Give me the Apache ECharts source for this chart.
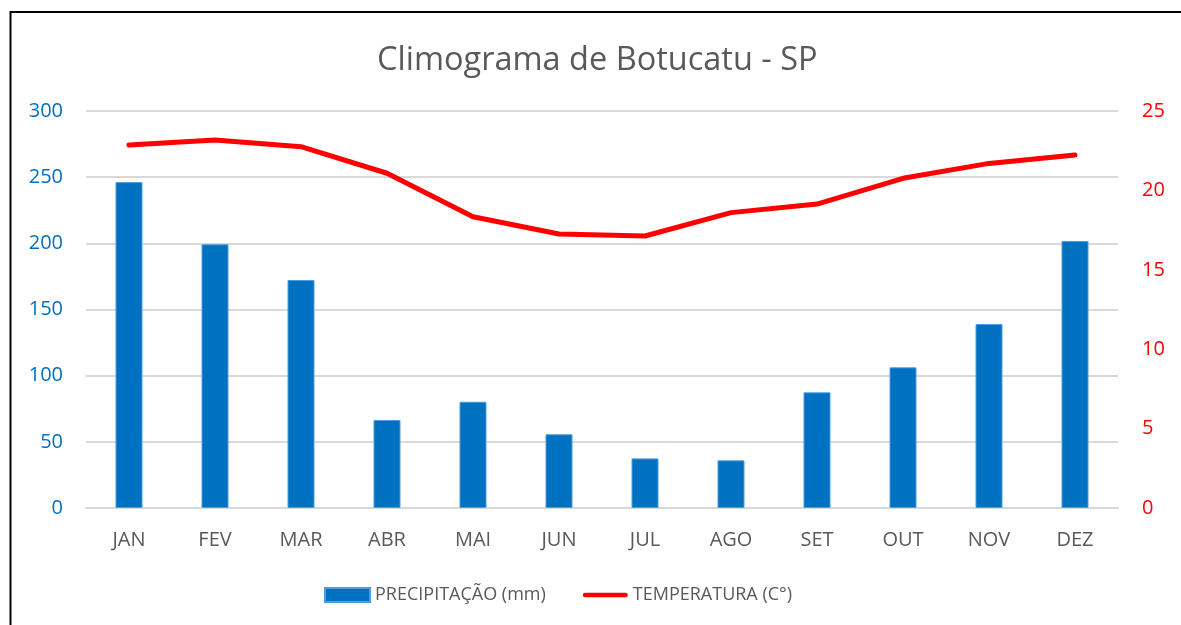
<!DOCTYPE html>
<html>
<head>
<meta charset="utf-8">
<script src="https://cdn.jsdelivr.net/npm/echarts@6/dist/echarts.min.js"></script>
<style>
  html, body { margin: 0; padding: 0; background: #fff; }
  #chart { width: 1181px; height: 625px; }
</style>
</head>
<body>
<div id="chart"></div>
<script>
// dados do climograma
var meses = ['JAN', 'FEV', 'MAR', 'ABR', 'MAI', 'JUN', 'JUL', 'AGO', 'SET', 'OUT', 'NOV', 'DEZ']
var precipitacao = [246.3, 199.3, 172.3, 66.5, 80.3, 55.7, 37.5, 36.0, 87.4, 106.3, 139.0, 201.8]
var temperatura = [22.86, 23.17, 22.75, 21.08, 18.34, 17.25, 17.13, 18.6, 19.14, 20.76, 21.7, 22.23]

var chart = echarts.init(document.getElementById('chart'))
chart.setOption({
    animation: false,
    textStyle: { fontFamily: 'Open Sans' },
    title: {
        text: 'Climograma de Botucatu - SP',
        left: 372,
        top: 39,
        textStyle: { fontFamily: 'Open Sans', fontSize: 32.5, fontWeight: 'normal', color: '#595959' }
    },
    graphic: [
        {
            type: 'rect',
            shape: { x: 10.5, y: 12, width: 1400, height: 1000 },
            style: { fill: 'none', stroke: '#000', lineWidth: 2 },
            silent: true
        }
    ],
    grid: { left: 86, right: 63, top: 111, bottom: 117 },
    legend: {
        left: 319,
        top: 581,
        itemWidth: 45,
        itemHeight: 14,
        itemGap: 37,
        textStyle: { fontSize: 18, color: '#595959' },
        data: [
            { name: 'PRECIPITAÇÃO (mm)', icon: 'rect' },
            { name: 'TEMPERATURA (C°)', icon: 'path://M2.5,0 L46.5,0 A2.5,2.5 0 0 1 46.5,5 L2.5,5 A2.5,2.5 0 0 1 2.5,0 Z' }
        ]
    },
    xAxis: {
        type: 'category',
        data: meses,
        axisLine: { lineStyle: { color: '#d9d9d9', width: 2 } },
        axisTick: { show: false },
        axisLabel: { fontSize: 20, color: '#595959', margin: 22 }
    },
    yAxis: [
        {
            type: 'value',
            min: 0,
            max: 300,
            interval: 50,
            axisLine: { show: false },
            axisTick: { show: false },
            axisLabel: { fontSize: 20, color: '#0070C0', margin: 23 },
            splitLine: { lineStyle: { color: '#d9d9d9', width: 2 } }
        },
        {
            type: 'value',
            min: 0,
            max: 25,
            interval: 5,
            axisLine: { show: false },
            axisTick: { show: false },
            axisLabel: { fontSize: 20, color: '#FF0000', margin: 24 },
            splitLine: { show: false }
        }
    ],
    series: [
        {
            name: 'PRECIPITAÇÃO (mm)',
            type: 'bar',
            data: precipitacao,
            barWidth: 27,
            itemStyle: { color: '#0070C0', borderColor: '#4d9de0', borderWidth: 1 }
        },
        {
            name: 'TEMPERATURA (C°)',
            type: 'line',
            yAxisIndex: 1,
            data: temperatura,
            symbol: 'none',
            lineStyle: { color: '#FF0000', width: 5, cap: 'round', join: 'round' },
            itemStyle: { color: '#FF0000' }
        }
    ]
})
</script>
</body>
</html>
